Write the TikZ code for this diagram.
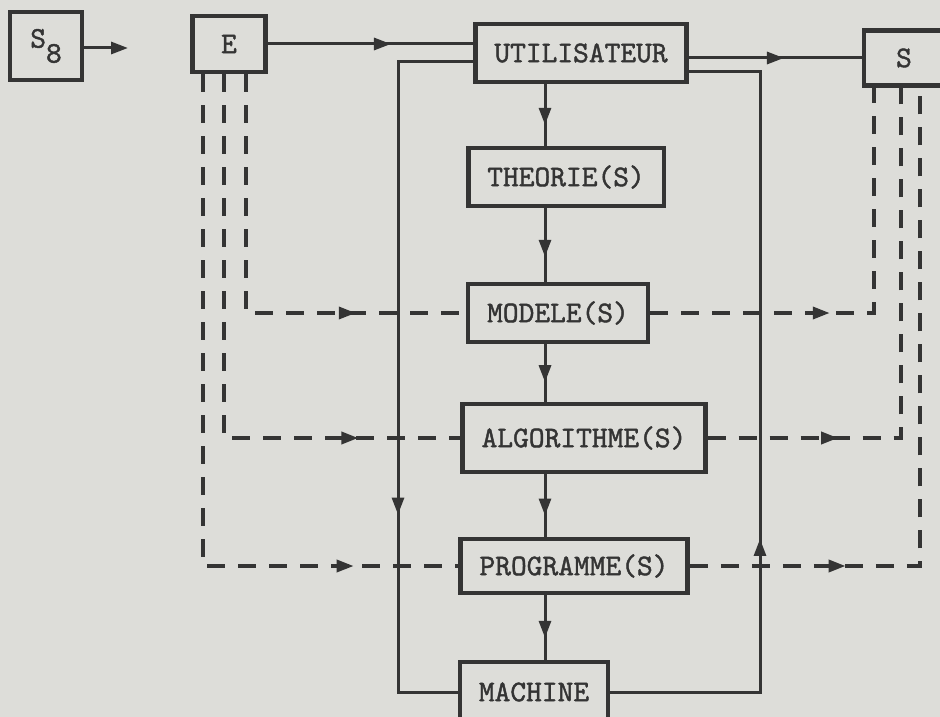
\documentclass[tikz,border=0pt]{standalone}
\usepackage{fontspec}
\newfontfamily\boxfont{lmmono10-regular.otf}[FakeBold=1.4]
\usetikzlibrary{arrows.meta,decorations.markings,calc}
\definecolor{paper}{RGB}{221,221,217}
\definecolor{ink}{RGB}{52,52,52}
\tikzset{
  box/.style={draw=ink, line width=4.5pt, fill=paper, text=ink, font=\boxfont\fontsize{30}{36}\selectfont, inner xsep=19pt, minimum height=58pt},
  flow/.style={ink, line width=3pt},
  dashedline/.style={ink, line width=3.5pt, dash pattern=on 18pt off 13pt},
  midarrow/.style={postaction={decorate}, decoration={markings, mark=at position #1 with {\arrow{Triangle[length=17pt,width=12pt]}}}},
}
\begin{document}
\begin{tikzpicture}[x=1pt, y=-1pt]
    \useasboundingbox (0,0) rectangle (940,717);
    \clip (0,0) rectangle (940,717);
    \fill[paper] (0,0) rectangle (940,717);

    \node[box, minimum width=72pt, minimum height=68pt] (s8) at (46,46) {S\raisebox{-.5em}{8}};
    \node[box, minimum width=73pt, minimum height=56pt] (e) at (229,44) {E};
    \node[box] (utilisateur) at (581,53) {UTILISATEUR};
    \node[box, minimum width=80pt, minimum height=55pt] (s) at (904,58) {S};
    \node[box] (theorie) at (566,177) {THEORIE(S)};
    \node[box] (modele) at (558,313) {MODELE(S)};
    \node[box, minimum height=68pt] (algorithme) at (584,438) {ALGORITHME(S)};
    \node[box, minimum height=54pt] (programme) at (574,566) {PROGRAMME(S)};
    \node[box, minimum height=60pt] (machine) at (534,692) {MACHINE};

    \coordinate (s8tip) at (128,48);
    \coordinate (ltop) at (398,62);
    \coordinate (rtop) at (760,72);
    \coordinate (axis) at (545,0);
    \coordinate (din) at (246,0);
    \coordinate (dmid) at (224,0);
    \coordinate (dout) at (203,0);
    \coordinate (dr1) at (874,0);
    \coordinate (dr2) at (901,0);
    \coordinate (dr3) at (920,0);

    \draw[flow, -{Triangle[length=17pt,width=12pt]}] (s8.east |- s8tip) -- (s8tip);
    \draw[flow, midarrow=.6] (e.east) -- (e.east -| utilisateur.west);
    \draw[flow, midarrow=.55] (utilisateur.east |- s.west) -- (s.west);
    \draw[flow, midarrow=.69] (ltop -| utilisateur.west) -- (ltop) |- (machine.west);
    \draw[flow, midarrow=.36] (machine.east) -| (rtop) -- (rtop -| utilisateur.east);
    \foreach \a/\b in {utilisateur/theorie, theorie/modele, modele/algorithme, algorithme/programme, programme/machine}
        \draw[flow, midarrow=.66] (axis |- \a.south) -- (axis |- \b.north);

    \draw[dashedline, midarrow=.76] (din |- e.south) |- (modele.west);
    \draw[dashedline, midarrow=.83] (dmid |- e.south) |- (algorithme.west);
    \draw[dashedline, midarrow=.86] (dout |- e.south) |- (programme.west);
    \draw[dashedline, midarrow=.4] (modele.east) -| (dr1 |- s.south);
    \draw[dashedline, midarrow=.24] (algorithme.east) -| (dr2 |- s.south);
    \draw[dashedline, midarrow=.22] (programme.east) -| (dr3 |- s.south);
\end{tikzpicture}
\end{document}
